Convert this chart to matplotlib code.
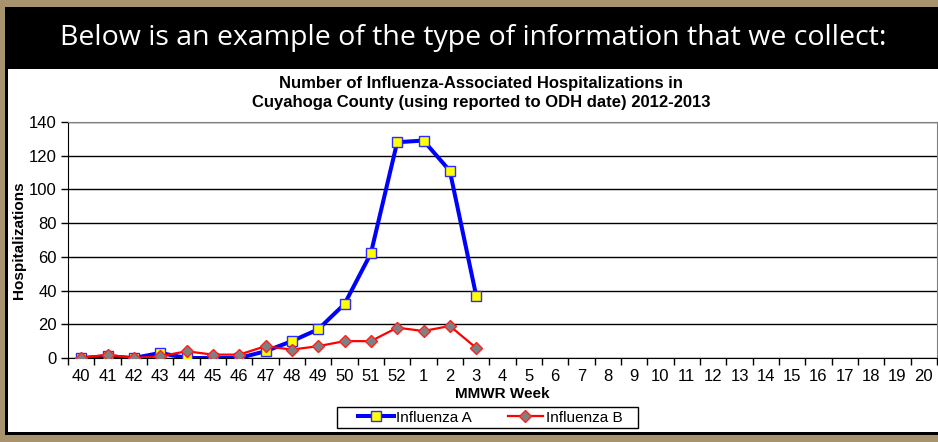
import matplotlib
matplotlib.use("Agg")
import matplotlib.pyplot as plt
from matplotlib.patches import Rectangle
import numpy as np

# MMWR weeks, 2012-2013 season
weeks = [str(w) for w in range(40, 53)] + [str(w) for w in range(1, 21)]
flu_a = [0, 1, 0, 3, 0, 0, 0, 4, 10, 17, 32, 62, 128, 129, 111, 37]
flu_b = [0, 2, 0, 1, 4, 2, 2, 7, 5, 7, 10, 10, 18, 16, 19, 6]

W, H = 938, 442
plt.rcParams['font.family'] = ['Liberation Sans', 'DejaVu Sans']

fig = plt.figure(figsize=(W / 100, H / 100), dpi=100)
fig.patch.set_facecolor('#a8936f')


def px_rect(x0, y0, x1, y1, zorder=-5, **kw):
    # rectangle in pixel coords measured from top-left
    r = Rectangle((x0 / W, 1 - y1 / H), (x1 - x0) / W, (y1 - y0) / H,
                  transform=fig.transFigure, zorder=zorder, **kw)
    fig.patches.append(r)


px_rect(5, 7, 940, 435, facecolor='black', edgecolor='none')
px_rect(8, 69, 940, 432, facecolor='white', edgecolor='none')

fig.text(473 / W, 1 - 38 / H,
         'Below is an example of the type of information that we collect:',
         color='white', fontsize=20.5, family='Open Sans', ha='center', va='center')

fig.text(481 / W, 1 - 93 / H,
         'Number of Influenza-Associated Hospitalizations in\n'
         'Cuyahoga County (using reported to ODH date) 2012-2013',
         fontsize=12, fontweight='bold', ha='center', va='center', linespacing=1.35)

ax = fig.add_axes([68 / W, 1 - 358 / H, (937 - 68) / W, (358 - 122) / H])
ax.set_facecolor('white')

x = np.arange(len(weeks))
ax.plot(x[:len(flu_a)], flu_a, color='#0000ff', lw=2.9, marker='s', ms=6.8,
        mfc='#ffff00', mec='#2b2bff', mew=1, label='Influenza A', zorder=3)
ax.plot(x[:len(flu_b)], flu_b, color='#ff0000', lw=1.6, marker='D', ms=6,
        mfc='#808080', mec='#ff2020', mew=1, label='Influenza B', zorder=4)

ax.set_xlim(-0.5, len(weeks) - 0.5)
ax.set_ylim(0, 140)
ax.set_yticks(range(0, 141, 20))
ax.set_xticks(x)
ax.set_xticklabels(weeks)
ax.set_xticks(np.arange(-0.5, len(weeks), 1), minor=True)
ax.tick_params(axis='x', which='major', length=0, pad=8, labelsize=12)
ax.tick_params(axis='x', which='minor', length=5, direction='out', width=1)
ax.tick_params(axis='y', length=5, direction='out', width=1, labelsize=12, pad=3)
ax.yaxis.grid(True, color='black', lw=1)
ax.set_axisbelow(True)

for s in ['top', 'right']:
    ax.spines[s].set_color('#808080')
for s in ['left', 'bottom']:
    ax.spines[s].set_color('black')

ax.set_xlabel('MMWR Week', fontsize=11, fontweight='bold', labelpad=2)
ax.set_ylabel('Hospitalizations', fontsize=11, fontweight='bold', labelpad=2)

# legend box drawn separately so its width can match the original
px_rect(337, 407, 638, 428, zorder=4, facecolor='white', edgecolor='black', lw=1)
leg = fig.legend(loc='center', bbox_to_anchor=(490 / W, 1 - 417.5 / H), ncol=2,
                 frameon=False, fontsize=11,
                 handlelength=2.35, handletextpad=0.15, columnspacing=2.35,
                 borderpad=0, borderaxespad=0)
leg.set_zorder(6)

fig.savefig('out.png', dpi=100, facecolor=fig.get_facecolor())
